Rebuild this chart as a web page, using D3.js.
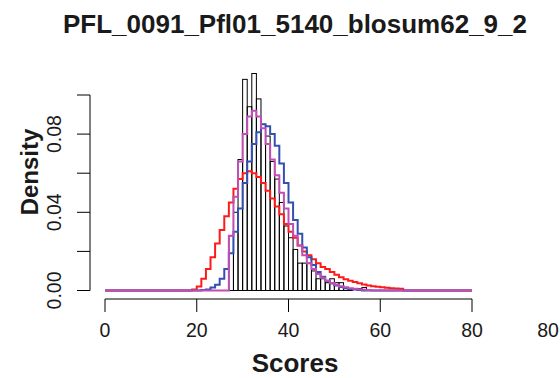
<!DOCTYPE html>
<html>
<head>
<meta charset="utf-8">
<script src="https://cdn.jsdelivr.net/npm/d3@7"></script>
<style>
  body { margin: 0; background: #fff; }
  text { font-family: "Liberation Sans", Arial, sans-serif; fill: #1a1a1a; }
</style>
</head>
<body>
<div id="chart"></div>
<script>
// histogram: density per 1-point bin, first bin starts at 27
const binStart = 27;
const binDensity = [0.028, 0.040, 0.067, 0.108, 0.094, 0.111, 0.098, 0.085, 0.079, 0.066,
  0.057, 0.045, 0.033, 0.027, 0.021, 0.014, 0.014, 0.014, 0.010, 0.006,
  0.006, 0.004, 0.006, 0.004, 0.004, 0.001, 0.001, 0.000, 0.001, 0.0015];

// fitted curves, one value per integer score, starting at given score (0 elsewhere)
const redStart = 19;
const redValues = [0.0005, 0.002, 0.006, 0.011, 0.017, 0.024, 0.031, 0.038, 0.045, 0.052,
  0.057, 0.060, 0.061, 0.060, 0.058, 0.055, 0.051, 0.047, 0.043, 0.039,
  0.034, 0.030, 0.027, 0.023, 0.020, 0.018, 0.016, 0.014, 0.012, 0.011,
  0.0095, 0.008, 0.0068, 0.0058, 0.005, 0.0043, 0.0037, 0.0031, 0.0026, 0.0022,
  0.0019, 0.0016, 0.0014, 0.0012, 0.001, 0.0009];

const blueStart = 21;
const blueValues = [0.0002, 0.0005, 0.0015, 0.003, 0.006, 0.011, 0.019, 0.030, 0.042, 0.055,
  0.066, 0.075, 0.081, 0.085, 0.084, 0.080, 0.074, 0.065, 0.055, 0.045,
  0.036, 0.029, 0.022, 0.017, 0.013, 0.0095, 0.007, 0.005, 0.0036, 0.0026,
  0.0018, 0.0012, 0.0008, 0.0005, 0.0003];

const magentaStart = 27;
const magentaValues = [0.028, 0.048, 0.066, 0.080, 0.089, 0.092, 0.089, 0.083, 0.075, 0.067,
  0.059, 0.050, 0.042, 0.034, 0.028, 0.023, 0.018, 0.014, 0.011, 0.0085,
  0.0065, 0.005, 0.0038, 0.0029, 0.0022, 0.0016, 0.0012, 0.0009, 0.0006, 0.0004, 0.0003];

const xTicks = [0, 20, 40, 60, 80];
const yTicks = [0, 0.02, 0.04, 0.06, 0.08, 0.10];
const yLabels = [0, 0.04, 0.08];

const width = 560, height = 378;

const x = d3.scaleLinear().domain([0, 80]).range([105, 472]);
const y = d3.scaleLinear().domain([0, 0.1]).range([290.5, 95]);

const svg = d3.select("#chart").append("svg")
  .attr("width", width)
  .attr("height", height);

// bars
const bins = binDensity.map((d, i) => ({ x0: binStart + i, x1: binStart + i + 1, d: d }));
svg.append("g").selectAll("rect")
  .data(bins)
  .join("rect")
  .attr("x", d => x(d.x0))
  .attr("y", d => y(d.d))
  .attr("width", d => x(d.x1) - x(d.x0))
  .attr("height", d => y(0) - y(d.d))
  .attr("fill", "none")
  .attr("stroke", "#000")
  .attr("stroke-width", 1);

// curves as steps over 0..80
const scores = d3.range(0, 81);
function series(start, vals) {
  return scores.map(s => ({ s: s, v: (s >= start && s - start < vals.length) ? vals[s - start] : 0 }));
}
const line = d3.line()
  .x(d => x(d.s))
  .y(d => y(d.v))
  .curve(d3.curveStepAfter);

const curves = [
  { color: "#ff1a1a", data: series(redStart, redValues) },
  { color: "#3350b0", data: series(blueStart, blueValues) },
  { color: "#c04eb4", data: series(magentaStart, magentaValues) }
];
svg.append("g").selectAll("path")
  .data(curves)
  .join("path")
  .attr("d", d => line(d.data))
  .attr("fill", "none")
  .attr("stroke", d => d.color)
  .attr("stroke-width", 2);

// x axis
const xAxis = svg.append("g");
xAxis.append("line")
  .attr("x1", x(0)).attr("x2", x(80))
  .attr("y1", 299).attr("y2", 299)
  .attr("stroke", "#000");
xAxis.selectAll("line.tick")
  .data(xTicks)
  .join("line")
  .attr("class", "tick")
  .attr("x1", d => x(d)).attr("x2", d => x(d))
  .attr("y1", 299).attr("y2", 312)
  .attr("stroke", "#000");
xAxis.selectAll("text")
  .data(xTicks)
  .join("text")
  .attr("x", d => x(d))
  .attr("y", 337)
  .attr("text-anchor", "middle")
  .style("font-size", "19.5px")
  .text(d => d);
// stray label at far right
svg.append("text")
  .attr("x", 548)
  .attr("y", 337)
  .attr("text-anchor", "middle")
  .style("font-size", "19.5px")
  .text("80");

// y axis
const yAxis = svg.append("g");
yAxis.append("line")
  .attr("x1", 90).attr("x2", 90)
  .attr("y1", y(0)).attr("y2", y(0.1))
  .attr("stroke", "#000");
yAxis.selectAll("line.tick")
  .data(yTicks)
  .join("line")
  .attr("class", "tick")
  .attr("x1", 77).attr("x2", 90)
  .attr("y1", d => y(d)).attr("y2", d => y(d))
  .attr("stroke", "#000");
yAxis.selectAll("text")
  .data(yLabels)
  .join("text")
  .attr("transform", d => `translate(61,${y(d)}) rotate(-90)`)
  .attr("text-anchor", "middle")
  .style("font-size", "19.5px")
  .text(d => d3.format(".2f")(d));

// titles
svg.append("text")
  .attr("x", 295)
  .attr("y", 33)
  .attr("text-anchor", "middle")
  .style("font-size", "26px")
  .style("font-weight", "bold")
  .text("PFL_0091_Pfl01_5140_blosum62_9_2");

svg.append("text")
  .attr("x", 295)
  .attr("y", 372)
  .attr("text-anchor", "middle")
  .style("font-size", "26px")
  .style("font-weight", "bold")
  .text("Scores");

svg.append("text")
  .attr("transform", "translate(38,172) rotate(-90)")
  .attr("text-anchor", "middle")
  .style("font-size", "24px")
  .style("font-weight", "bold")
  .text("Density");
</script>
</body>
</html>
